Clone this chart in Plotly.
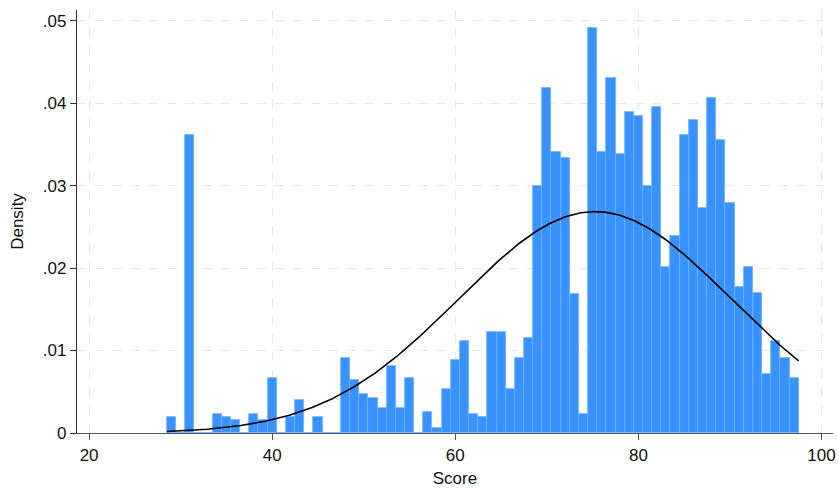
import numpy as np
import plotly.graph_objects as go

# Histogram bins (centers, width 1) and density heights
bin_centers = list(range(29, 98))
density = [
    0.0019, 0.0, 0.0361, 0.0, 0.0, 0.0023, 0.0019, 0.0016, 0.0, 0.0023,   # 29-38
    0.0016, 0.0067, 0.0, 0.0020, 0.0040, 0.0, 0.0019, 0.0, 0.0, 0.0091,   # 39-48
    0.0064, 0.0047, 0.0043, 0.0030, 0.0081, 0.0030, 0.0067, 0.0, 0.0026, 0.0006,  # 49-58
    0.0053, 0.0088, 0.0112, 0.0023, 0.0019, 0.0122, 0.0122, 0.0053, 0.0091, 0.0115,  # 59-68
    0.0300, 0.0419, 0.0341, 0.0334, 0.0169, 0.0023, 0.0491, 0.0341, 0.0430, 0.0338,  # 69-78
    0.0389, 0.0385, 0.0300, 0.0395, 0.0201, 0.0239, 0.0361, 0.0379, 0.0273, 0.0406,  # 79-88
    0.0355, 0.0279, 0.0177, 0.0201, 0.0170, 0.0071, 0.0112, 0.0091, 0.0067,          # 89-97
]
bin_width = 1.0

# Normal density overlay parameters (estimated from the curve)
score_mean = 75.25
score_sd = 14.86
score_min = 28.5
score_max = 97.5

x_ticks = [20, 40, 60, 80, 100]
y_ticks = [0, 0.01, 0.02, 0.03, 0.04, 0.05]
y_tick_labels = ["0", ".01", ".02", ".03", ".04", ".05"]

xs = np.linspace(score_min, score_max, 300)
ys = np.exp(-0.5 * ((xs - score_mean) / score_sd) ** 2) / (score_sd * np.sqrt(2 * np.pi))

FONT = "Liberation Sans, Arial, Helvetica, sans-serif"

fig = go.Figure()
fig.add_trace(go.Bar(
    x=bin_centers, y=density, width=bin_width,
    marker=dict(color="#3892ff", line=dict(color="#74b4ff", width=0.8)),
    showlegend=False, hoverinfo="x+y",
))
fig.add_trace(go.Scatter(
    x=xs, y=ys, mode="lines",
    line=dict(color="black", width=1.6),
    showlegend=False,
))

grid_style = dict(showgrid=True, gridcolor="#e8e8e8", gridwidth=1, griddash="dash")

fig.update_layout(
    width=839, height=488,
    margin=dict(l=77, r=6, t=10, b=55, autoexpand=False),
    paper_bgcolor="white", plot_bgcolor="white",
    font=dict(family=FONT, size=17, color="#111"),
    bargap=0,
    xaxis=dict(
        range=[18.68, 101.25], tickvals=x_ticks, ticks="outside", ticklen=6,
        tickcolor="#555", showline=True, linecolor="#555", linewidth=1.2,
        zeroline=False, automargin=False,
        title=dict(text="Score", standoff=8, font=dict(size=17)),
        tickfont=dict(size=17), **grid_style,
    ),
    yaxis=dict(
        range=[0, 0.0513], tickvals=y_ticks, ticktext=y_tick_labels,
        ticks="outside", ticklen=6, tickcolor="#333",
        showline=True, linecolor="#333", linewidth=1.2,
        zeroline=False, automargin=False,
        title=dict(text="Density", standoff=14, font=dict(size=17)),
        tickfont=dict(size=17), **grid_style,
    ),
)

fig.write_html(
    "out.html",
    config={"displayModeBar": False},
    post_script="document.body.style.margin='0';document.body.style.overflow='hidden';",
)
